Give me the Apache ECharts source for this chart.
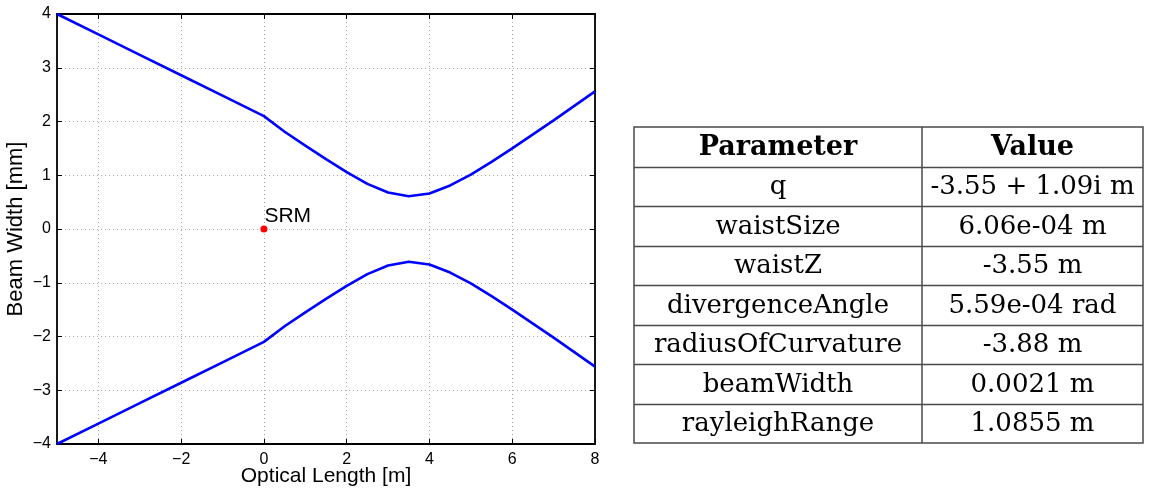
<!DOCTYPE html>
<html>
<head>
<meta charset="utf-8">
<script src="https://cdn.jsdelivr.net/npm/echarts@6/dist/echarts.min.js"></script>
<style>
  html, body { margin: 0; padding: 0; background: #fff; }
  #chart { width: 1161px; height: 489px; }
</style>
</head>
<body>
<div id="chart"></div>
<script>
// Optical length along the beam path [m]
const opticalLength = [-5, -4, -3, -2, -1, 0, 0.5, 1, 1.5, 2, 2.5, 3, 3.5, 4, 4.5, 5, 5.5, 6, 6.5, 7, 7.5, 8];
// Beam envelope, upper edge [mm]
const upperWidth = [4.00, 3.62, 3.24, 2.86, 2.48, 2.10, 1.81, 1.55, 1.30, 1.06, 0.84, 0.68, 0.61, 0.66, 0.81, 1.01, 1.25, 1.50, 1.76, 2.02, 2.29, 2.56];
// Beam envelope, lower edge [mm]
const lowerWidth = [-4.00, -3.62, -3.24, -2.86, -2.48, -2.10, -1.81, -1.55, -1.30, -1.06, -0.84, -0.68, -0.61, -0.66, -0.81, -1.01, -1.25, -1.50, -1.76, -2.02, -2.29, -2.56];
// Marked optic
const opticName = 'SRM';
const opticPosition = [0, 0];

// Beam parameter table
const tableHeader = ['Parameter', 'Value'];
const paramNames = ['q', 'waistSize', 'waistZ', 'divergenceAngle', 'radiusOfCurvature', 'beamWidth', 'rayleighRange'];
const paramValues = ['-3.55 + 1.09i m', '6.06e-04 m', '-3.55 m', '5.59e-04 rad', '-3.88 m', '0.0021 m', '1.0855 m'];

const sans = 'Liberation Sans, Arial, Helvetica, sans-serif';
const serif = 'DejaVu Serif, serif';
const minus = v => String(v).replace('-', '\u2212');

// table layout
const tbl = { left: 634, right: 1143, top: 127, bottom: 443, split: 922 };
const rowCount = paramNames.length + 1;
const rowH = (tbl.bottom - tbl.top) / rowCount;
const border = '#4a4a4a';

const graphics = [];
graphics.push({
  type: 'rect',
  shape: { x: tbl.left, y: tbl.top, width: tbl.right - tbl.left, height: tbl.bottom - tbl.top },
  style: { fill: 'none', stroke: border, lineWidth: 1.5 },
  silent: true
});
graphics.push({
  type: 'line',
  shape: { x1: tbl.split, y1: tbl.top, x2: tbl.split, y2: tbl.bottom },
  style: { stroke: border, lineWidth: 1.5 },
  silent: true
});
for (let r = 1; r < rowCount; r++) {
  const y = Math.round(tbl.top + r * rowH) + 0.5;
  graphics.push({
    type: 'line',
    shape: { x1: tbl.left, y1: y, x2: tbl.right, y2: y },
    style: { stroke: border, lineWidth: 1.3 },
    silent: true
  });
}
const colCenters = [(tbl.left + tbl.split) / 2, (tbl.split + tbl.right) / 2];
function cellText(str, col, row, bold) {
  graphics.push({
    type: 'text',
    silent: true,
    style: {
      text: str,
      x: colCenters[col],
      y: tbl.top + (row + 0.5) * rowH + 1,
      fill: '#000',
      fontFamily: serif,
      fontSize: bold ? 27 : 26,
      fontWeight: bold ? 'bold' : 'normal',
      textAlign: 'center',
      textVerticalAlign: 'middle',
      verticalAlign: 'middle'
    }
  });
}
tableHeader.forEach((h, i) => cellText(h, i, 0, true));
paramNames.forEach((n, i) => cellText(n, 0, i + 1, false));
paramValues.forEach((v, i) => cellText(v, 1, i + 1, false));

const toPairs = ys => opticalLength.map((x, i) => [x, ys[i]]);

const gridLine = { show: true, lineStyle: { color: '#a8a8a8', width: 1, type: [1, 3] } };
const axisLine = { show: true, onZero: false, lineStyle: { color: '#000', width: 1.8 } };
const tickIn = { show: true, inside: true, length: 5, lineStyle: { color: '#000', width: 1 } };

const option = {
  backgroundColor: '#fff',
  animation: false,
  grid: { left: 57, right: 566, top: 14, bottom: 45, containLabel: false, outerBoundsMode: 'none' },
  xAxis: [{
    type: 'value', min: -5, max: 8, splitNumber: 6,
    name: 'Optical Length [m]', nameLocation: 'middle', nameGap: 22, nameMoveOverlap: false,
    nameTextStyle: { fontFamily: sans, fontSize: 21, color: '#000' },
    axisLine: axisLine, axisTick: tickIn, splitLine: gridLine,
    axisLabel: { showMinLabel: false, fontFamily: sans, fontSize: 16, color: '#000', margin: 8, formatter: minus }
  }, {
    type: 'value', min: -5, max: 8, splitNumber: 6, position: 'top',
    axisLine: axisLine, axisTick: tickIn, splitLine: { show: false }, axisLabel: { show: false }
  }],
  yAxis: [{
    type: 'value', min: -4, max: 4, interval: 1,
    name: 'Beam Width [mm]', nameLocation: 'middle', nameGap: 30, nameRotate: 90, nameMoveOverlap: false,
    nameTextStyle: { fontFamily: sans, fontSize: 22, color: '#000' },
    axisLine: axisLine, axisTick: tickIn, splitLine: gridLine,
    axisLabel: { fontFamily: sans, fontSize: 16, color: '#000', margin: 6, formatter: minus }
  }, {
    type: 'value', min: -4, max: 4, interval: 1, position: 'right',
    axisLine: axisLine, axisTick: tickIn, splitLine: { show: false }, axisLabel: { show: false }
  }],
  series: [{
    type: 'line', data: toPairs(upperWidth), symbol: 'none', smooth: false,
    lineStyle: { color: '#0000ff', width: 2.6 }, z: 3
  }, {
    type: 'line', data: toPairs(lowerWidth), symbol: 'none', smooth: false,
    lineStyle: { color: '#0000ff', width: 2.6 }, z: 3
  }, {
    type: 'scatter', data: [opticPosition], symbol: 'circle', symbolSize: 7,
    itemStyle: { color: '#ff0000', opacity: 1 }, z: 4,
    label: {
      show: true, position: 'right', distance: 0, offset: [-3, -13],
      formatter: opticName, fontFamily: sans, fontSize: 21, color: '#000', opacity: 1
    }
  }],
  graphic: graphics
};

const chart = echarts.init(document.getElementById('chart'), null, { renderer: 'canvas' });
chart.setOption(option);
</script>
</body>
</html>
